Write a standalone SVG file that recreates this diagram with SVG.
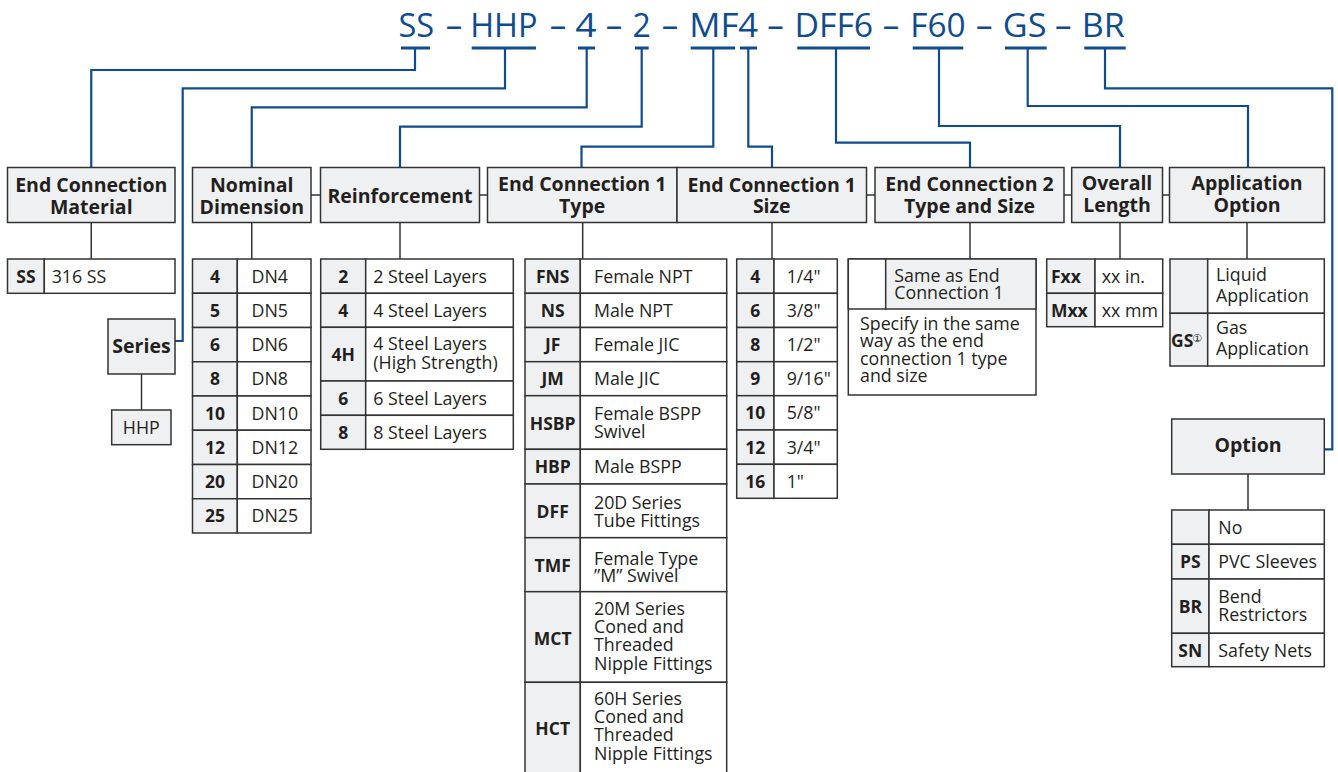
<svg xmlns="http://www.w3.org/2000/svg" width="1338" height="772" viewBox="0 0 1338 772">
<style>
.hb{fill:#eff0f1;stroke:#333;stroke-width:1.5}
.g{fill:#eff0f1;stroke:#333;stroke-width:1.5}
.w{fill:#fff;stroke:#333;stroke-width:1.5}
.ln{stroke:#333;stroke-width:1.5;fill:none}
.bl{stroke:#0f4c8f;stroke-width:2.2;fill:none}
.bar{stroke:#0f4c8f;stroke-width:3}
text{font-family:"Open Sans","Noto Sans",sans-serif;fill:#231f20}
.h{font-size:19.5px;font-weight:700;text-anchor:middle}
.c{font-size:17.5px;font-weight:700;text-anchor:middle}
.cl{font-size:17.5px;font-weight:700}
.d{font-size:17.8px}
.dm{font-size:17.8px;text-anchor:middle}
.ti{font-size:33px;fill:#0f4c8f}
.da{font-size:33px;fill:#0f4c8f;text-anchor:middle}
</style>
<rect width="1338" height="772" fill="#fff"/>

<g id="title">
<text class="ti" x="398.5" y="37" textLength="35.7" lengthAdjust="spacingAndGlyphs">SS</text>
<text class="da" x="454" y="37">–</text>
<text class="ti" x="470.2" y="37" textLength="67.3" lengthAdjust="spacingAndGlyphs">HHP</text>
<text class="da" x="558" y="37">–</text>
<text class="ti" x="575.2" y="37" textLength="21.3" lengthAdjust="spacingAndGlyphs">4</text>
<text class="da" x="614" y="37">–</text>
<text class="ti" x="632.5" y="37" textLength="18.3" lengthAdjust="spacingAndGlyphs">2</text>
<text class="da" x="670" y="37">–</text>
<text class="ti" x="689.2" y="37" textLength="69" lengthAdjust="spacingAndGlyphs">MF4</text>
<text class="da" x="775.5" y="37">–</text>
<text class="ti" x="794.5" y="37" textLength="78.7" lengthAdjust="spacingAndGlyphs">DFF6</text>
<text class="da" x="891" y="37">–</text>
<text class="ti" x="910.2" y="37" textLength="55.3" lengthAdjust="spacingAndGlyphs">F60</text>
<text class="da" x="984.3" y="37">–</text>
<text class="ti" x="1002.8" y="37" textLength="43.7" lengthAdjust="spacingAndGlyphs">GS</text>
<text class="da" x="1063.3" y="37">–</text>
<text class="ti" x="1081.8" y="37" textLength="43" lengthAdjust="spacingAndGlyphs">BR</text>
</g>

<g id="connectors">
<line class="bar" x1="401" y1="48" x2="430" y2="48"/>
<line class="bar" x1="471.7" y1="48" x2="536" y2="48"/>
<line class="bar" x1="578" y1="48" x2="595" y2="48"/>
<line class="bar" x1="635" y1="48" x2="648.7" y2="48"/>
<line class="bar" x1="690.7" y1="48" x2="735" y2="48"/>
<line class="bar" x1="740" y1="48" x2="757" y2="48"/>
<line class="bar" x1="797.3" y1="48" x2="870" y2="48"/>
<line class="bar" x1="912.7" y1="48" x2="963.3" y2="48"/>
<line class="bar" x1="1005" y1="48" x2="1046.7" y2="48"/>
<line class="bar" x1="1084.3" y1="48" x2="1125.7" y2="48"/>
<path class="bl" d="M415,48 V70 H91.25 V167.5"/>
<path class="bl" d="M505,48 V88.3 H182.7 V341 H175"/>
<path class="bl" d="M586.7,48 V107.3 H251.75 V167.5"/>
<path class="bl" d="M641.7,48 V126.7 H400 V167.5"/>
<path class="bl" d="M713.3,48 V146.7 H581.5 V167.5"/>
<path class="bl" d="M748.3,48 V146.7 H772 V167.5"/>
<path class="bl" d="M836,48 V142.7 H970 V167.5"/>
<path class="bl" d="M939,48 V126 H1120 V167.5"/>
<path class="bl" d="M1027.7,48 V106 H1248 V167.5"/>
<path class="bl" d="M1105,48 V88.3 H1332.3 V449.3 H1324.3"/>
</g>

<g id="links">
<line class="ln" x1="311" y1="195" x2="320.5" y2="195"/>
<line class="ln" x1="479.5" y1="195" x2="487.5" y2="195"/>
<line class="ln" x1="866.5" y1="195" x2="875" y2="195"/>
<line class="ln" x1="1064" y1="195" x2="1071.7" y2="195"/>
<line class="ln" x1="1162.5" y1="195" x2="1169.5" y2="195"/>
<line class="ln" x1="91.25" y1="222.5" x2="91.25" y2="259"/>
<line class="ln" x1="251.75" y1="222.5" x2="251.75" y2="259"/>
<line class="ln" x1="400" y1="222.5" x2="400" y2="259"/>
<line class="ln" x1="582.7" y1="222.5" x2="582.7" y2="259"/>
<line class="ln" x1="772" y1="222.5" x2="772" y2="259"/>
<line class="ln" x1="970" y1="222.5" x2="970" y2="259"/>
<line class="ln" x1="1120" y1="222.5" x2="1120" y2="259"/>
<line class="ln" x1="1247" y1="222.5" x2="1247" y2="259"/>
<line class="ln" x1="141.5" y1="374" x2="141.5" y2="410"/>
<line class="ln" x1="1248" y1="474" x2="1248" y2="510"/>
</g>

<g id="hdr-material"><rect class="hb" x="7.5" y="167.5" width="167.5" height="55"/>
<text class="h" x="91.25" y="191.5">End Connection</text><text class="h" x="91.25" y="213.5">Material</text></g>
<g id="hdr-nominal"><rect class="hb" x="192.5" y="167.5" width="118.5" height="55"/>
<text class="h" x="251.75" y="191.5">Nominal</text><text class="h" x="251.75" y="213.5">Dimension</text></g>
<g id="hdr-reinforcement"><rect class="hb" x="320.5" y="167.5" width="159" height="55"/>
<text class="h" x="400" y="203">Reinforcement</text></g>
<g id="hdr-ec1-type"><rect class="hb" x="487.5" y="167.5" width="189.5" height="55"/>
<text class="h" x="582.2" y="191">End Connection 1</text><text class="h" x="582.2" y="212.5">Type</text></g>
<g id="hdr-ec1-size"><rect class="hb" x="677" y="167.5" width="189.5" height="55"/>
<text class="h" x="771.75" y="192">End Connection 1</text><text class="h" x="771.75" y="213">Size</text></g>
<g id="hdr-ec2"><rect class="hb" x="875" y="167.5" width="189" height="55"/>
<text class="h" x="969.5" y="191">End Connection 2</text><text class="h" x="969.5" y="212.5">Type and Size</text></g>
<g id="hdr-length"><rect class="hb" x="1071.7" y="167.5" width="90.8" height="55"/>
<text class="h" x="1117" y="190">Overall</text><text class="h" x="1117" y="212">Length</text></g>
<g id="hdr-application"><rect class="hb" x="1169.5" y="167.5" width="155" height="55"/>
<text class="h" x="1247" y="190">Application</text><text class="h" x="1247" y="212">Option</text></g>
<g id="hdr-series"><rect class="hb" x="108" y="319" width="67" height="55"/>
<text class="h" x="141.5" y="353">Series</text></g>
<g id="hdr-option"><rect class="hb" x="1171.7" y="419" width="152.6" height="55"/>
<text class="h" x="1248" y="452">Option</text></g>

<g id="series-value"><rect class="g" x="111.7" y="410" width="59.3" height="34.7"/>
<text class="dm" x="141.3" y="434.3">HHP</text></g>

<g id="tbl-material">
<rect class="g" x="7.5" y="259" width="36.8" height="34.3"/><rect class="w" x="44.3" y="259" width="130.7" height="34.3"/>
<text class="c" x="25.9" y="282.7">SS</text><text class="d" x="51.7" y="282.7">316 SS</text>
</g>

<g id="tbl-nominal">
<rect class="g" x="192.5" y="259" width="44.8" height="34.25"/><rect class="w" x="237.3" y="259" width="73.7" height="34.25"/>
<rect class="g" x="192.5" y="293.25" width="44.8" height="34.25"/><rect class="w" x="237.3" y="293.25" width="73.7" height="34.25"/>
<rect class="g" x="192.5" y="327.5" width="44.8" height="34.25"/><rect class="w" x="237.3" y="327.5" width="73.7" height="34.25"/>
<rect class="g" x="192.5" y="361.75" width="44.8" height="34.25"/><rect class="w" x="237.3" y="361.75" width="73.7" height="34.25"/>
<rect class="g" x="192.5" y="396" width="44.8" height="34.25"/><rect class="w" x="237.3" y="396" width="73.7" height="34.25"/>
<rect class="g" x="192.5" y="430.25" width="44.8" height="34.25"/><rect class="w" x="237.3" y="430.25" width="73.7" height="34.25"/>
<rect class="g" x="192.5" y="464.5" width="44.8" height="34.25"/><rect class="w" x="237.3" y="464.5" width="73.7" height="34.25"/>
<rect class="g" x="192.5" y="498.75" width="44.8" height="34.25"/><rect class="w" x="237.3" y="498.75" width="73.7" height="34.25"/>
<text class="c" x="214.9" y="282.6">4</text><text class="d" x="251.5" y="282.6">DN4</text>
<text class="c" x="214.9" y="316.9">5</text><text class="d" x="251.5" y="316.9">DN5</text>
<text class="c" x="214.9" y="351.1">6</text><text class="d" x="251.5" y="351.1">DN6</text>
<text class="c" x="214.9" y="385.4">8</text><text class="d" x="251.5" y="385.4">DN8</text>
<text class="c" x="214.9" y="419.6">10</text><text class="d" x="251.5" y="419.6">DN10</text>
<text class="c" x="214.9" y="453.9">12</text><text class="d" x="251.5" y="453.9">DN12</text>
<text class="c" x="214.9" y="488.1">20</text><text class="d" x="251.5" y="488.1">DN20</text>
<text class="c" x="214.9" y="522.4">25</text><text class="d" x="251.5" y="522.4">DN25</text>
</g>

<g id="tbl-reinforcement">
<rect class="g" x="320.7" y="259" width="45" height="34.3"/><rect class="w" x="365.7" y="259" width="147.6" height="34.3"/>
<rect class="g" x="320.7" y="293.3" width="45" height="34"/><rect class="w" x="365.7" y="293.3" width="147.6" height="34"/>
<rect class="g" x="320.7" y="327.3" width="45" height="53.7"/><rect class="w" x="365.7" y="327.3" width="147.6" height="53.7"/>
<rect class="g" x="320.7" y="381" width="45" height="34.3"/><rect class="w" x="365.7" y="381" width="147.6" height="34.3"/>
<rect class="g" x="320.7" y="415.3" width="45" height="34"/><rect class="w" x="365.7" y="415.3" width="147.6" height="34"/>
<text class="c" x="343.2" y="282.7">2</text><text class="d" x="373.3" y="282.7">2 Steel Layers</text>
<text class="c" x="343.2" y="316.8">4</text><text class="d" x="373.3" y="316.8">4 Steel Layers</text>
<text class="c" x="343.2" y="360.7">4H</text><text class="d" x="373.3" y="350.2">4 Steel Layers</text><text class="d" x="373.3" y="369.4">(High Strength)</text>
<text class="c" x="343.2" y="404.7">6</text><text class="d" x="373.3" y="404.7">6 Steel Layers</text>
<text class="c" x="343.2" y="438.8">8</text><text class="d" x="373.3" y="438.8">8 Steel Layers</text>
</g>

<g id="tbl-ec1-type">
<rect class="g" x="525" y="259" width="55.3" height="34.3"/><rect class="w" x="580.3" y="259" width="146.4" height="34.3"/>
<rect class="g" x="525" y="293.3" width="55.3" height="34.2"/><rect class="w" x="580.3" y="293.3" width="146.4" height="34.2"/>
<rect class="g" x="525" y="327.5" width="55.3" height="34.2"/><rect class="w" x="580.3" y="327.5" width="146.4" height="34.2"/>
<rect class="g" x="525" y="361.7" width="55.3" height="34"/><rect class="w" x="580.3" y="361.7" width="146.4" height="34"/>
<rect class="g" x="525" y="395.7" width="55.3" height="53.6"/><rect class="w" x="580.3" y="395.7" width="146.4" height="53.6"/>
<rect class="g" x="525" y="449.3" width="55.3" height="34.7"/><rect class="w" x="580.3" y="449.3" width="146.4" height="34.7"/>
<rect class="g" x="525" y="484" width="55.3" height="53.7"/><rect class="w" x="580.3" y="484" width="146.4" height="53.7"/>
<rect class="g" x="525" y="537.7" width="55.3" height="54"/><rect class="w" x="580.3" y="537.7" width="146.4" height="54"/>
<rect class="g" x="525" y="591.7" width="55.3" height="90.6"/><rect class="w" x="580.3" y="591.7" width="146.4" height="90.6"/>
<rect class="g" x="525" y="682.3" width="55.3" height="92"/><rect class="w" x="580.3" y="682.3" width="146.4" height="92"/>
<text class="c" x="552.7" y="282.7">FNS</text><text class="d" x="594" y="282.7">Female NPT</text>
<text class="c" x="552.7" y="316.9">NS</text><text class="d" x="594" y="316.9">Male NPT</text>
<text class="c" x="552.7" y="351.1">JF</text><text class="d" x="594" y="351.1">Female JIC</text>
<text class="c" x="552.7" y="385.2">JM</text><text class="d" x="594" y="385.2">Male JIC</text>
<text class="c" x="552.7" y="429.5">HSBP</text><text class="d" x="594" y="420">Female BSPP</text><text class="d" x="594" y="437.5">Swivel</text>
<text class="c" x="552.7" y="473.2">HBP</text><text class="d" x="594" y="473.2">Male BSPP</text>
<text class="c" x="552.7" y="518">DFF</text><text class="d" x="594" y="509.3">20D Series</text><text class="d" x="594" y="526.7">Tube Fittings</text>
<text class="c" x="552.7" y="571.5">TMF</text><text class="d" x="594" y="564.5">Female Type</text><text class="d" x="594" y="582">”M” Swivel</text>
<text class="c" x="552.7" y="644.5">MCT</text><text class="d" x="594" y="615">20M Series</text><text class="d" x="594" y="633.2">Coned and</text><text class="d" x="594" y="651.4">Threaded</text><text class="d" x="594" y="669.6">Nipple Fittings</text>
<text class="c" x="552.7" y="734.5">HCT</text><text class="d" x="594" y="705">60H Series</text><text class="d" x="594" y="723.2">Coned and</text><text class="d" x="594" y="741.4">Threaded</text><text class="d" x="594" y="759.6">Nipple Fittings</text>
</g>

<g id="tbl-ec1-size">
<rect class="g" x="736.7" y="259" width="37.3" height="34.3"/><rect class="w" x="774" y="259" width="63.3" height="34.3"/>
<rect class="g" x="736.7" y="293.3" width="37.3" height="34.2"/><rect class="w" x="774" y="293.3" width="63.3" height="34.2"/>
<rect class="g" x="736.7" y="327.5" width="37.3" height="34.2"/><rect class="w" x="774" y="327.5" width="63.3" height="34.2"/>
<rect class="g" x="736.7" y="361.7" width="37.3" height="34"/><rect class="w" x="774" y="361.7" width="63.3" height="34"/>
<rect class="g" x="736.7" y="395.7" width="37.3" height="34.3"/><rect class="w" x="774" y="395.7" width="63.3" height="34.3"/>
<rect class="g" x="736.7" y="430" width="37.3" height="34.3"/><rect class="w" x="774" y="430" width="63.3" height="34.3"/>
<rect class="g" x="736.7" y="464.3" width="37.3" height="34"/><rect class="w" x="774" y="464.3" width="63.3" height="34"/>
<text class="c" x="755.3" y="282.7">4</text><text class="d" x="786.7" y="282.7">1/4"</text>
<text class="c" x="755.3" y="316.9">6</text><text class="d" x="786.7" y="316.9">3/8"</text>
<text class="c" x="755.3" y="351.1">8</text><text class="d" x="786.7" y="351.1">1/2"</text>
<text class="c" x="755.3" y="385.2">9</text><text class="d" x="786.7" y="385.2">9/16"</text>
<text class="c" x="755.3" y="419.4">10</text><text class="d" x="786.7" y="419.4">5/8"</text>
<text class="c" x="755.3" y="453.7">12</text><text class="d" x="786.7" y="453.7">3/4"</text>
<text class="c" x="755.3" y="487.8">16</text><text class="d" x="786.7" y="487.8">1"</text>
</g>

<g id="tbl-ec2">
<rect class="w" x="848.3" y="259" width="187.7" height="136"/>
<rect class="w" x="848.3" y="259" width="37.4" height="50"/><rect class="g" x="885.7" y="259" width="150.3" height="50"/>
<text class="d" x="894.3" y="281.7">Same as End</text><text class="d" x="894.3" y="299.3">Connection 1</text>
<text class="d" x="860" y="329.5">Specify in the same</text>
<text class="d" x="860" y="347">way as the end</text>
<text class="d" x="860" y="364.5">connection 1 type</text>
<text class="d" x="860" y="382">and size</text>
</g>

<g id="tbl-length">
<rect class="g" x="1046.7" y="259" width="48.3" height="34.3"/><rect class="w" x="1095" y="259" width="67.7" height="34.3"/>
<rect class="g" x="1046.7" y="293.3" width="48.3" height="33.4"/><rect class="w" x="1095" y="293.3" width="67.7" height="33.4"/>
<text class="cl" x="1051" y="282.7">Fxx</text><text class="d" x="1101.7" y="282.7">xx in.</text>
<text class="cl" x="1051" y="316.5">Mxx</text><text class="d" x="1101.7" y="316.5">xx mm</text>
</g>

<g id="tbl-application">
<rect class="g" x="1170" y="259" width="37.7" height="54.3"/><rect class="w" x="1207.7" y="259" width="116.6" height="54.3"/>
<rect class="g" x="1170" y="313.3" width="37.7" height="52.7"/><rect class="w" x="1207.7" y="313.3" width="116.6" height="52.7"/>
<text class="d" x="1216" y="281">Liquid</text><text class="d" x="1216" y="302">Application</text>
<text class="cl" x="1171" y="347">GS</text><text x="1192" y="341.5" style="font-family:'DejaVu Sans',sans-serif;font-size:11px">①</text>
<text class="d" x="1216" y="334">Gas</text><text class="d" x="1216" y="355">Application</text>
</g>

<g id="tbl-option">
<rect class="g" x="1171.7" y="510" width="37.3" height="34.3"/><rect class="w" x="1209" y="510" width="115.3" height="34.3"/>
<rect class="g" x="1171.7" y="544.3" width="37.3" height="34.7"/><rect class="w" x="1209" y="544.3" width="115.3" height="34.7"/>
<rect class="g" x="1171.7" y="579" width="37.3" height="54.3"/><rect class="w" x="1209" y="579" width="115.3" height="54.3"/>
<rect class="g" x="1171.7" y="633.3" width="37.3" height="33.4"/><rect class="w" x="1209" y="633.3" width="115.3" height="33.4"/>
<text class="d" x="1218.3" y="533.7">No</text>
<text class="c" x="1190.3" y="568.2">PS</text><text class="d" x="1218.3" y="568.2">PVC Sleeves</text>
<text class="c" x="1190.3" y="612.7">BR</text><text class="d" x="1218.3" y="602.7">Bend</text><text class="d" x="1218.3" y="620.5">Restrictors</text>
<text class="c" x="1190.3" y="656.5">SN</text><text class="d" x="1218.3" y="656.5">Safety Nets</text>
</g>
</svg>
